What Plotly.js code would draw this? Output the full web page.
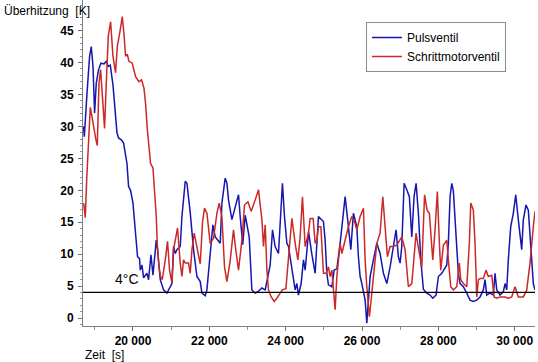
<!DOCTYPE html>
<html>
<head>
<meta charset="utf-8">
<script src="https://cdn.plot.ly/plotly-3.0.1.min.js"></script>
<style>
html,body{margin:0;padding:0;background:#fff;}
#chart{width:538px;height:362px;}
</style>
</head>
<body>
<div id="chart"></div>
<script>
// Zeit [s] and Überhitzung [K] – Pulsventil
const timePuls = [18707,18725,18796,18864,18908,18953,18995,19039,19099,19162,19241,19301,19353,19406,19476,19537,19581,19623,19694,19754,19798,19843,19885,19937,20000,20034,20086,20120,20173,20191,20236,20278,20367,20408,20471,20524,20610,20644,20715,20801,20890,20958,21021,21063,21107,21152,21238,21283,21369,21414,21500,21587,21676,21762,21806,21893,21937,22024,22094,22155,22215,22286,22330,22416,22461,22503,22592,22678,22765,22809,22875,22940,22992,23045,23115,23202,23288,23377,23464,23534,23595,23655,23725,23812,23875,23916,23969,24032,24074,24163,24249,24294,24335,24406,24466,24511,24600,24686,24773,24859,24948,24990,25034,25079,25121,25210,25270,25341,25427,25513,25558,25644,25707,25775,25864,25906,25951,25995,26082,26126,26168,26213,26299,26388,26474,26561,26650,26736,26822,26893,26953,26998,27042,27103,27173,27241,27304,27364,27417,27477,27540,27608,27697,27783,27854,27940,28001,28090,28221,28262,28307,28351,28393,28464,28524,28569,28655,28744,28830,28917,29006,29092,29179,29223,29268,29354,29441,29485,29530,29616,29702,29747,29791,29833,29896,29964,30027,30095,30184,30226,30297,30357,30420,30488,30532];
const tempPuls = [30.0,28.4,35.2,41,42.5,39.4,32.1,36.8,38.9,39.9,39.8,40.2,39.4,39.6,36.5,32.1,29,28.2,27.9,27.4,25.8,24.2,20.6,20.0,18,15.9,11.7,9.6,9.3,7.5,8.3,6.3,7.0,6.0,9.9,6.7,12.2,10.7,6.0,4.4,3.9,4.7,5.4,11.2,10.1,10.7,11.2,15.9,21.4,21.1,16.5,10.7,6.5,5.7,3.9,3.5,4.4,10.1,14.6,12.7,12.2,11.7,18,21.9,21.1,18.5,15.4,17.4,19.3,15.9,11.5,16.1,14.5,12.7,4.4,3.9,4.2,4.7,4.4,6.5,8.3,13.8,11.2,10.1,16.4,21.1,15.9,11.7,11.2,8,4.4,5.4,3.6,5.4,9.1,7.5,13.5,10,7,15.9,15.4,15.1,12.2,7,5.2,4.9,7.5,7.7,11.7,15.9,19,14.3,10.7,16.4,14.3,9.6,6.5,5.4,2.8,-0.8,2.8,6.5,9.1,11.7,10.1,7,5.4,8,11.2,13.8,9.6,8.6,11.2,21.1,20.1,19,12.7,19,21.1,16.4,9.1,4.5,3.9,3.6,3.1,3.6,6.5,7,8.3,11.7,19,21.1,19.9,11.7,7,5.4,4.9,3.9,2.8,2.6,2.8,3.3,4.4,6,3.6,3.9,3.6,7,4.4,3.6,4.1,5.4,4.4,9.1,14.3,16.4,19.3,15.4,10.7,15.4,17.7,16.9,11.7,5.4,4.4];

// Schrittmotorventil
const timeSchritt = [18707,18751,18790,18843,18882,18927,18974,19026,19065,19110,19152,19196,19256,19301,19353,19414,19476,19544,19589,19649,19720,19764,19806,19851,19895,19982,20068,20157,20225,20288,20330,20374,20419,20461,20524,20576,20610,20636,20681,20723,20767,20846,20906,20958,21021,21063,21134,21168,21238,21283,21325,21369,21456,21500,21545,21605,21710,21762,21822,21874,21937,22024,22110,22199,22259,22330,22398,22461,22547,22634,22697,22765,22854,22922,23011,23097,23202,23288,23377,23419,23464,23508,23550,23621,23699,23770,23856,23916,24006,24074,24163,24249,24320,24380,24440,24511,24597,24642,24720,24773,24817,24859,24922,24990,25061,25121,25165,25210,25270,25296,25341,25427,25472,25558,25644,25733,25820,25864,25951,26037,26082,26126,26194,26257,26343,26388,26474,26545,26605,26665,26736,26822,26912,26980,27042,27129,27215,27304,27417,27477,27566,27639,27705,27765,27854,27914,27974,28027,28063,28131,28221,28262,28325,28393,28482,28550,28587,28655,28744,28812,28849,28917,28961,29006,29048,29092,29179,29249,29310,29399,29459,29530,29616,29747,29833,29922,30009,30095,30226,30315,30401,30488,30532];
const tempSchritt = [18.0,15.7,22,28,33,31.5,29.5,28,27.0,36.8,38.9,35,29.7,36.8,44.1,46.4,41,38.4,42.5,44.5,47.2,44.5,41,41.3,40.2,39.9,37.8,37.0,37.3,36,33.6,29.7,26.9,24.2,23.5,19.5,15.9,11.7,8,6.5,6.0,9.1,12,7.5,5.5,10.7,12.7,14.1,8.6,6.5,9.1,8.6,8.6,7,10.7,13.3,10,8.5,15,17.2,16.4,11.7,12.5,16.4,18,15.9,8,5.7,9,13.8,10.5,7.5,12.2,17.7,18.2,16.7,18.5,20.1,15.4,11.2,14.6,7.5,4.4,3.3,2.6,3.1,3.9,4.4,4.6,9.6,15.6,11.7,9.1,12.7,19,11.2,13.3,15.6,15.6,11.7,12.2,14.3,14.3,7,7,8,6.5,7.5,3.3,1.3,6.5,11.7,10.1,12.2,14.3,15.9,14.8,13.8,15.9,17.2,9.1,4.9,0.2,3.9,9.6,11.7,13.3,19,14.3,9.6,11.2,11.2,11.4,12.2,12.7,10.7,4.9,5.4,13.3,11,8,19.3,16.9,16.4,9.1,13.8,19.8,11.7,7.5,11.4,12.2,9.1,4.9,4.4,4.9,8.6,6.0,5.4,4.9,11.7,18,16.9,11.7,3.3,6.0,6.2,6.2,7.5,6.5,6.7,3.3,3.1,3.3,3.3,3.1,3.3,4.9,3.3,3.3,4.4,8.6,14.3,16.7];

const seriesNames = ['Pulsventil', 'Schrittmotorventil'];
const xTickVals = [20000, 22000, 24000, 26000, 28000, 30000];
const xTickText = ['20 000', '22 000', '24 000', '26 000', '28 000', '30 000'];
const yTickVals = [0, 5, 10, 15, 20, 25, 30, 35, 40, 45];
const thresholdValue = 4;
const thresholdLabel = '4°C';
const xTitle = 'Zeit  [s]';
const yTitle = 'Überhitzung  [K]';

const FONT = '"Liberation Sans", Arial, sans-serif';

const traces = [
  {x: timePuls, y: tempPuls, name: seriesNames[0], type: 'scatter', mode: 'lines',
   line: {color: '#1616b0', width: 1.5}},
  {x: timeSchritt, y: tempSchritt, name: seriesNames[1], type: 'scatter', mode: 'lines',
   line: {color: '#cc2828', width: 1.5}}
];

const layout = {
  width: 538, height: 362,
  margin: {l: 83, r: 3, t: 0, b: 36},
  paper_bgcolor: '#ffffff', plot_bgcolor: '#ffffff',
  font: {family: FONT, size: 12, color: '#000'},
  showlegend: true,
  legend: {
    x: 0.626, y: 0.9325, xanchor: 'left', yanchor: 'top',
    bordercolor: '#8c8c8c', borderwidth: 1, bgcolor: '#fff',
    font: {family: FONT, size: 12, color: '#000'},
    tracegroupgap: 2, itemwidth: 30
  },
  xaxis: {
    range: [18691, 30532],
    tickvals: xTickVals, ticktext: xTickText,
    ticks: 'outside', ticklen: 4, tickcolor: '#707070', tickwidth: 1,
    minor: {dtick: 1000, tick0: 0, ticks: 'outside', ticklen: 3, tickcolor: '#909090'},
    showline: true, linecolor: '#808080', linewidth: 1,
    showgrid: false, zeroline: false,
    tickfont: {family: FONT, size: 12, color: '#000', weight: 'bold'},
    fixedrange: true
  },
  yaxis: {
    range: [-1.25, 49.8],
    tickvals: yTickVals,
    ticks: 'outside', ticklen: 4, tickcolor: '#707070', tickwidth: 1,
    minor: {dtick: 1, tick0: 0, ticks: 'outside', ticklen: 2, tickcolor: '#909090'},
    showline: true, linecolor: '#808080', linewidth: 1,
    showgrid: false, zeroline: false,
    tickfont: {family: FONT, size: 12, color: '#000', weight: 'bold'},
    ticklabelstandoff: 2,
    fixedrange: true
  },
  shapes: [
    {type: 'line', xref: 'paper', yref: 'y', x0: 0, x1: 1, y0: thresholdValue, y1: thresholdValue,
     line: {color: '#000', width: 1.3}}
  ],
  annotations: [
    {text: thresholdLabel, xref: 'x', yref: 'y', x: 19836, y: thresholdValue, yshift: 3,
     showarrow: false, xanchor: 'center', yanchor: 'bottom', font: {family: FONT, size: 14, color: '#000'}},
    {text: xTitle, xref: 'paper', yref: 'paper', x: 0, y: 0, yshift: -29, xanchor: 'left', yanchor: 'middle',
     showarrow: false, font: {family: FONT, size: 12, color: '#000'}},
    {text: yTitle, xref: 'paper', yref: 'paper', x: -0.179, y: 1, yshift: -11, xanchor: 'left', yanchor: 'middle',
     showarrow: false, font: {family: FONT, size: 12, color: '#000'}}
  ]
};

Plotly.newPlot('chart', traces, layout, {displayModeBar: false, staticPlot: true});
</script>
</body>
</html>
